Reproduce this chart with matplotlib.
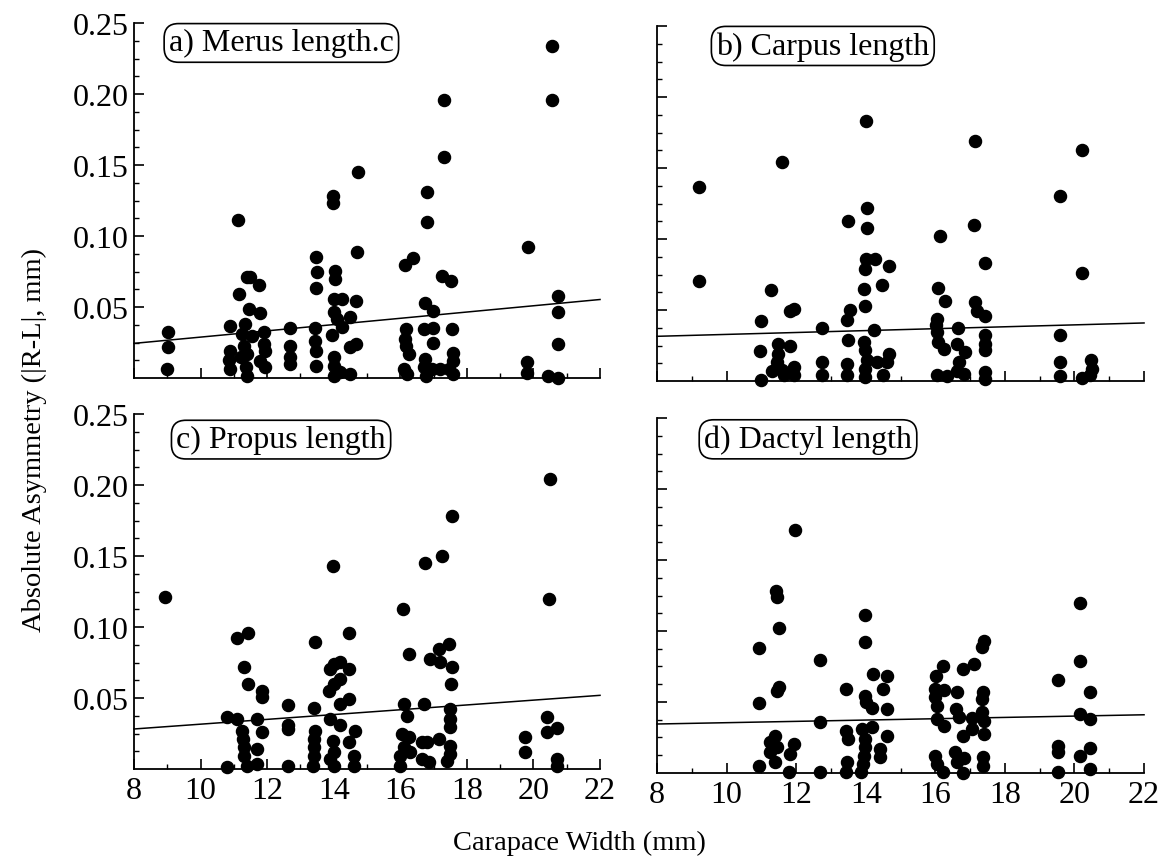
import matplotlib

matplotlib.use("Agg")
import matplotlib.pyplot as plt

# carapace width (mm) and absolute asymmetry |R-L| (mm)
merus_width = [
    9.03, 9.03, 9.00,
    10.87, 10.87, 10.85, 10.87,
    11.11, 11.16, 11.40, 11.50, 11.76, 11.45, 11.78, 11.35, 11.25, 11.55, 11.30, 11.40, 11.20, 11.38, 11.40,
    11.92, 11.90, 11.95, 11.80, 11.95,
    12.68, 12.68, 12.68, 12.68,
    13.47, 13.49, 13.47, 13.45, 13.45, 13.48, 13.48,
    13.99, 13.99, 14.03, 14.03, 14.00, 14.25, 14.00, 14.10, 14.48, 14.25, 13.95, 14.00, 14.00, 14.00,
    14.20, 14.48, 14.68, 14.70, 14.72, 14.48, 14.68,
    16.13, 16.38, 16.18, 16.15, 16.18, 16.25, 16.10, 16.20,
    16.73, 16.98, 16.70, 16.98, 16.98, 16.75, 16.70, 16.78, 16.95, 17.20,
    16.81, 16.81, 17.31, 17.31, 17.25, 17.52, 17.55, 17.58, 17.58, 17.45, 17.58,
    19.83, 19.80, 19.80,
    20.45, 20.75, 20.75, 20.75, 20.75, 20.57, 20.57,
]
merus_asym = [
    0.0326, 0.0216, 0.0063,
    0.0369, 0.0192, 0.0127, 0.0063,
    0.111, 0.0592, 0.0714, 0.0714, 0.0655, 0.0486, 0.0458, 0.0380, 0.0310, 0.0298, 0.0228, 0.0169, 0.0146, 0.0075, 0.0016,
    0.0322, 0.0239, 0.0192, 0.0122, 0.0075,
    0.0350, 0.0228, 0.0146, 0.0099,
    0.0850, 0.0744, 0.0631, 0.0350, 0.0263, 0.0192, 0.0082,
    0.128, 0.123, 0.0756, 0.0697, 0.0556, 0.0556, 0.0462, 0.0415, 0.0427, 0.0357, 0.0303, 0.0146, 0.0087, 0.0016,
    0.0040, 0.0028, 0.0545, 0.0885, 0.145, 0.0216, 0.0239,
    0.0796, 0.0843, 0.0345, 0.0275, 0.0228, 0.0169, 0.0063, 0.0028,
    0.0528, 0.0474, 0.0345, 0.0352, 0.0244, 0.0134, 0.0075, 0.0016, 0.0063, 0.0063,
    0.131, 0.110, 0.196, 0.156, 0.0721, 0.0685, 0.0345, 0.0176, 0.0122, 0.0063, 0.0028,
    0.0925, 0.0110, 0.0035,
    0.0016, 0.0, 0.0580, 0.0467, 0.0239, 0.234, 0.196,
]

carpus_width = [
    9.22, 9.22,
    11.28, 10.99, 11.93, 11.83, 10.97, 11.47, 11.83, 11.47, 11.45, 11.30, 11.59, 11.93, 11.93, 10.99, 11.64, 11.58,
    12.74, 12.74, 12.74,
    13.54, 13.46, 13.49, 13.46, 13.46, 13.50,
    14.01, 14.04, 14.04, 14.02, 14.27, 13.99, 14.68, 14.47, 13.96, 13.99, 14.23, 13.96, 13.99, 14.03, 13.99,
    13.99, 14.66, 14.61, 14.51, 14.32,
    16.12, 16.09, 16.29, 16.05, 16.03, 16.05, 16.09, 16.24, 16.65, 16.62, 16.86, 16.67, 16.62, 16.81, 16.05, 16.33,
    17.14, 17.11, 17.15, 17.21, 17.43, 17.43, 17.43, 17.43, 17.43, 17.43, 17.43,
    19.57, 19.59, 19.59, 19.59,
    20.21, 20.21, 20.47, 20.50, 20.45, 20.21,
]
carpus_asym = [
    0.137, 0.0702,
    0.0638, 0.0420, 0.0509, 0.0491, 0.0209, 0.0263, 0.0246, 0.0192, 0.0134, 0.0068, 0.0075, 0.0099, 0.0040, 0.0005, 0.0040, 0.154,
    0.0373, 0.0134, 0.0045,
    0.0498, 0.0427, 0.0291, 0.0122, 0.0040, 0.113,
    0.183, 0.122, 0.108, 0.0862, 0.0862, 0.0786, 0.0810, 0.0678, 0.0646, 0.0526, 0.0357, 0.0275, 0.0216, 0.0146, 0.0087,
    0.0028, 0.0192, 0.0134, 0.0040, 0.0134,
    0.1021, 0.0655, 0.0561, 0.0439, 0.0392, 0.0345, 0.0275, 0.0223, 0.0373, 0.0263, 0.0204, 0.0134, 0.0068, 0.0052, 0.0045, 0.0035,
    0.169, 0.110, 0.0556, 0.0491, 0.0458, 0.0322, 0.0263, 0.0216, 0.0063, 0.0016, 0.0833,
    0.130, 0.0326, 0.0134, 0.0035,
    0.163, 0.0763, 0.0146, 0.0087, 0.0040, 0.0021,
]

propus_width = [
    8.92,
    11.10, 11.42, 11.30, 11.42, 11.85, 11.85, 10.80, 11.10, 11.25, 11.28, 11.30, 11.30, 11.40, 10.80, 11.70, 11.85, 11.70, 11.70,
    12.62, 12.62, 12.62, 12.62,
    13.40, 13.45, 13.40, 13.40, 13.40, 13.38, 13.45,
    13.99, 14.45, 14.00, 14.18, 14.45, 13.90, 14.20, 14.02, 13.85, 14.45, 14.20, 13.90, 14.20, 13.98, 14.00,
    13.90, 14.00, 14.65, 14.45, 14.60, 14.60,
    16.08, 16.25, 16.10, 16.20, 16.05, 16.25, 16.10, 16.00, 16.00, 16.30,
    16.74, 16.70, 16.65, 16.80, 16.65, 16.85, 16.90,
    17.26, 17.56, 17.15, 17.45, 17.20, 17.55, 17.52, 17.50, 17.50, 17.50, 17.15, 17.50, 17.50, 17.40,
    19.75, 19.75,
    20.50, 20.47, 20.40, 20.40, 20.72, 20.70, 20.70,
]
propus_asym = [
    0.121,
    0.0923, 0.0958, 0.0716, 0.0599, 0.0552, 0.0505, 0.0364, 0.0352, 0.0270, 0.0211, 0.0153, 0.0094, 0.0023, 0.0012, 0.0352, 0.0263, 0.0141, 0.0035,
    0.0451, 0.0310, 0.0282, 0.0019,
    0.0427, 0.0270, 0.0211, 0.0153, 0.0094, 0.0019, 0.0897,
    0.143, 0.0958, 0.0739, 0.0751, 0.0704, 0.0704, 0.0634, 0.0599, 0.0552, 0.0493, 0.0458, 0.0352, 0.0310, 0.0200, 0.0117,
    0.0070, 0.0023, 0.0270, 0.0188, 0.0094, 0.0023,
    0.113, 0.0810, 0.0458, 0.0376, 0.0246, 0.0223, 0.0153, 0.0094, 0.0023, 0.0117,
    0.145, 0.0458, 0.0188, 0.0188, 0.0070, 0.0047, 0.0775,
    0.150, 0.178, 0.0845, 0.0880, 0.0751, 0.0716, 0.0599, 0.0423, 0.0352, 0.0293, 0.0211, 0.0164, 0.0106, 0.0059,
    0.0223, 0.0122,
    0.204, 0.120, 0.0364, 0.0258, 0.0286, 0.0070, 0.0023,
]

dactyl_width = [
    10.94, 11.52, 10.94, 11.45, 11.52, 11.40, 11.26, 11.26, 11.45, 11.93, 11.83, 11.40, 10.94, 11.80, 11.96, 11.42, 11.45,
    12.69, 12.69, 12.69,
    13.43, 13.43, 13.48, 13.46, 13.43,
    13.98, 13.99, 13.99, 14.02, 14.18, 14.21, 14.61, 14.51, 14.61, 13.89, 14.18, 13.99, 13.99, 13.94, 13.92,
    13.86, 14.61, 14.42, 14.42,
    16.22, 16.03, 16.00, 16.24, 16.00, 16.05, 16.05, 16.24, 16.00, 16.05, 16.22,
    16.62, 16.60, 16.67, 16.79, 16.79, 17.10, 16.57, 16.62, 16.81, 16.79,
    17.39, 17.34, 17.37, 17.34, 17.34, 17.05, 17.39, 17.05, 17.39, 17.37, 17.37,
    19.54, 20.16, 20.16, 20.45, 20.16, 20.45, 19.54, 19.54, 20.16, 20.45, 20.45, 19.54,
]
dactyl_asym = [
    0.0878, 0.1021, 0.0493, 0.0580, 0.0603, 0.0263, 0.0221, 0.0146, 0.0181, 0.0204, 0.0134, 0.0075, 0.0052, 0.0005, 0.171, 0.128, 0.124,
    0.0796, 0.0362, 0.0005,
    0.0592, 0.0298, 0.0239, 0.0075, 0.0005,
    0.111, 0.0925, 0.0545, 0.0498, 0.0455, 0.0697, 0.0681, 0.0592, 0.0451, 0.0310, 0.0322, 0.0239, 0.0181, 0.0122, 0.0063,
    0.0009, 0.0263, 0.0169, 0.0110,
    0.0756, 0.0685, 0.0592, 0.0587, 0.0533, 0.0469, 0.0380, 0.0329, 0.0122, 0.0063, 0.0005,
    0.0573, 0.0451, 0.0392, 0.0263, 0.0732, 0.0768, 0.0146, 0.0075, 0.0103, 0.0,
    0.0932, 0.0885, 0.0573, 0.0521, 0.0432, 0.0385, 0.0369, 0.0310, 0.0275, 0.0110, 0.0052,
    0.0655, 0.120, 0.0791, 0.0568, 0.0415, 0.0380, 0.0192, 0.0146, 0.0122, 0.0174, 0.0028, 0.0009,
]

# regression lines, value at width 8 and 22
fit_width = [8, 22]
merus_fit = [0.0244, 0.0553]
carpus_fit = [0.0315, 0.0409]
propus_fit = [0.0282, 0.0519]
dactyl_fit = [0.0345, 0.0410]

panel_titles = ["a) Merus length.c", "b) Carpus length", "c) Propus length", "d) Dactyl length"]
x_ticks = [8, 10, 12, 14, 16, 18, 20, 22]
y_ticks = [0.05, 0.10, 0.15, 0.20, 0.25]
y_tick_labels = ["0.05", "0.10", "0.15", "0.20", "0.25"]

plt.rcParams["font.family"] = ["Liberation Serif", "DejaVu Serif"]


def draw_panel(ax, width, asym, fit, title, title_pos, show_x, show_y):
    ax.plot(width, asym, "o", color="black", markersize=8.7, clip_on=False, zorder=3)
    ax.plot(fit_width, fit, color="black", linewidth=1.1, clip_on=False)

    ax.set_xlim(8, 22)
    ax.set_ylim(0, 0.25)
    for side in ["top", "right"]:
        ax.spines[side].set_visible(False)
    for side in ["left", "bottom"]:
        ax.spines[side].set_linewidth(1.3)

    ax.set_xticks(x_ticks)
    ax.set_xticks([9, 11, 13, 15, 17, 19, 21], minor=True)
    ax.set_yticks(y_ticks)
    ax.set_yticks([0.0125 * i for i in range(1, 20) if i % 4], minor=True)
    ax.tick_params(which="major", direction="in", length=7, width=1.2, labelsize=23)
    ax.tick_params(axis="y", which="major", pad=4)
    ax.tick_params(axis="x", which="major", pad=5)
    ax.tick_params(which="minor", direction="in", length=3.5, width=1.0)

    if show_x:
        ax.set_xticklabels([str(t) for t in x_ticks])
    else:
        ax.set_xticklabels([])
    if show_y:
        ax.set_yticklabels(y_tick_labels)
    else:
        ax.set_yticklabels([])

    ax.text(
        title_pos[0],
        title_pos[1],
        title,
        fontsize=23,
        ha="left",
        va="center",
        bbox=dict(boxstyle="round,pad=0.15,rounding_size=0.45", fc="white", ec="black", lw=1.2),
    )


fig = plt.figure(figsize=(11.59, 8.62), dpi=100)

ax_a = fig.add_axes([0.1156, 0.5603, 0.4021, 0.4118])
ax_b = fig.add_axes([0.5669, 0.5568, 0.4202, 0.4118])
ax_c = fig.add_axes([0.1156, 0.1067, 0.4021, 0.4118])
ax_d = fig.add_axes([0.5669, 0.1021, 0.4202, 0.4118])

draw_panel(ax_a, merus_width, merus_asym, merus_fit, panel_titles[0], (9.05, 0.236), False, True)
draw_panel(ax_b, carpus_width, carpus_asym, carpus_fit, panel_titles[1], (9.7, 0.236), False, False)
draw_panel(ax_c, propus_width, propus_asym, propus_fit, panel_titles[2], (9.27, 0.232), True, True)
draw_panel(ax_d, dactyl_width, dactyl_asym, dactyl_fit, panel_titles[3], (9.35, 0.235), True, False)

fig.text(0.5, 0.022, "Carapace Width (mm)", fontsize=20.5, ha="center", va="center")
fig.text(0.03, 0.49, "Absolute Asymmetry (|R-L|, mm)", fontsize=20.5, ha="center", va="center",
         rotation=90)

fig.savefig("out.png", dpi=100)
